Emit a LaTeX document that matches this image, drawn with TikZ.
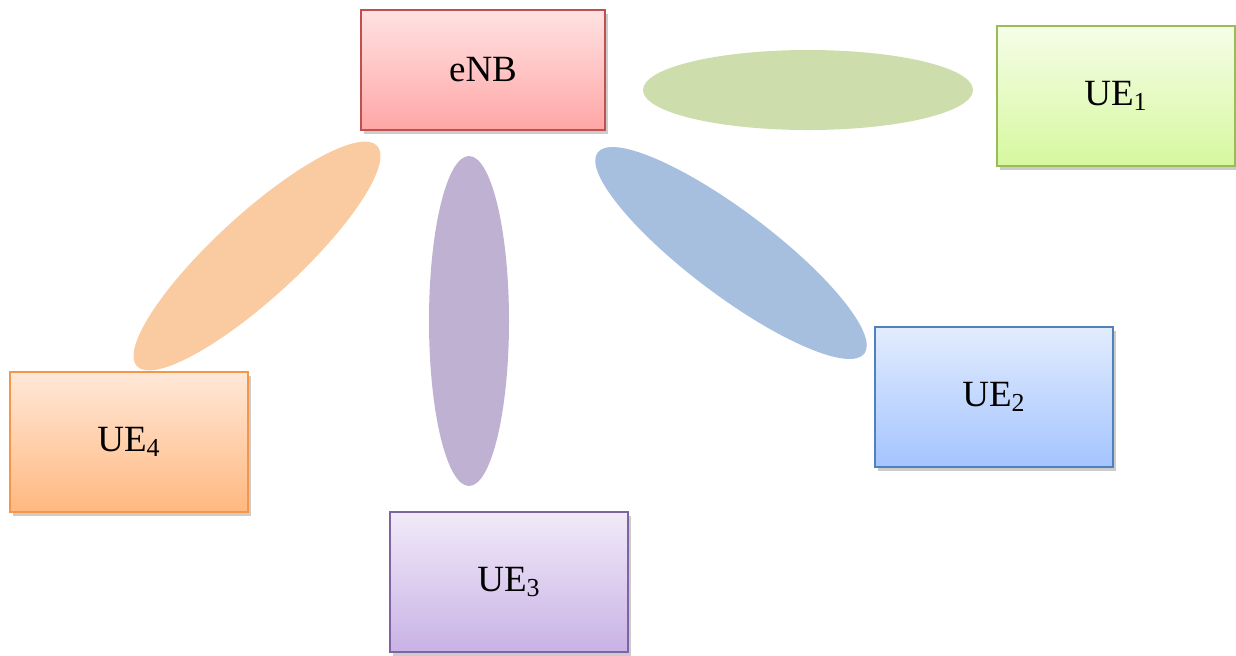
\documentclass[tikz,border=0pt]{standalone}
\usepackage{fontspec}
\setmainfont{Liberation Serif}
\usetikzlibrary{shapes.geometric,shadows}
\definecolor{redline}{HTML}{C0504D}
\definecolor{greenline}{HTML}{9BBB59}
\definecolor{blueline}{HTML}{4F81BD}
\definecolor{purpleline}{HTML}{8064A2}
\definecolor{orangeline}{HTML}{F79646}
\definecolor{beamgreen}{HTML}{CDDDAC}
\definecolor{beamblue}{HTML}{A7BFDE}
\definecolor{beampurple}{HTML}{BFB1D1}
\definecolor{beamorange}{HTML}{FACBA1}
\tikzset{
  station/.style={draw, line width=1pt, rectangle, minimum width=119pt, minimum height=70pt,
    inner sep=0pt, font=\fontsize{18.5}{20}\selectfont,
    drop shadow={shadow xshift=1.5pt, shadow yshift=-2pt, fill=black, opacity=0.2}},
  beam/.style={ellipse, inner sep=0pt, draw=none}
}
\begin{document}
\begin{tikzpicture}[x=0.5pt, y=-0.5pt]
  \useasboundingbox (0,0) rectangle (1236,655);
  % radio beams
  \node[beam, fill=beamgreen, minimum width=165pt, minimum height=40pt] (b1) at (808,90) {};
  \node[beam, fill=beamblue, minimum width=167pt, minimum height=42pt, rotate=-37] (b2) at (731,253) {};
  \node[beam, fill=beampurple, minimum width=40pt, minimum height=165pt] (b3) at (469,321) {};
  \node[beam, fill=beamorange, minimum width=163pt, minimum height=42pt, rotate=42.5] (b4) at (257,256) {};
  % base station and terminals
  \node[station, minimum width=122pt, minimum height=60pt, draw=redline, top color={rgb,255:red,255;green,226;blue,226}, bottom color={rgb,255:red,255;green,166;blue,166}] (enb) at (483,70) {eNB};
  \node[station, draw=greenline, top color={rgb,255:red,245;green,253;blue,232}, bottom color={rgb,255:red,214;green,248;blue,158}] (ue1) at (1116,96) {UE\textsubscript{1}};
  \node[station, draw=blueline, top color={rgb,255:red,226;green,236;blue,254}, bottom color={rgb,255:red,164;green,196;blue,254}] (ue2) at (994,397) {UE\textsubscript{2}};
  \node[station, draw=purpleline, top color={rgb,255:red,241;green,234;blue,248}, bottom color={rgb,255:red,201;green,178;blue,230}] (ue3) at (509,582) {UE\textsubscript{3}};
  \node[station, draw=orangeline, top color={rgb,255:red,255;green,232;blue,216}, bottom color={rgb,255:red,255;green,184;blue,128}] (ue4) at (129,442) {UE\textsubscript{4}};
\end{tikzpicture}
\end{document}
